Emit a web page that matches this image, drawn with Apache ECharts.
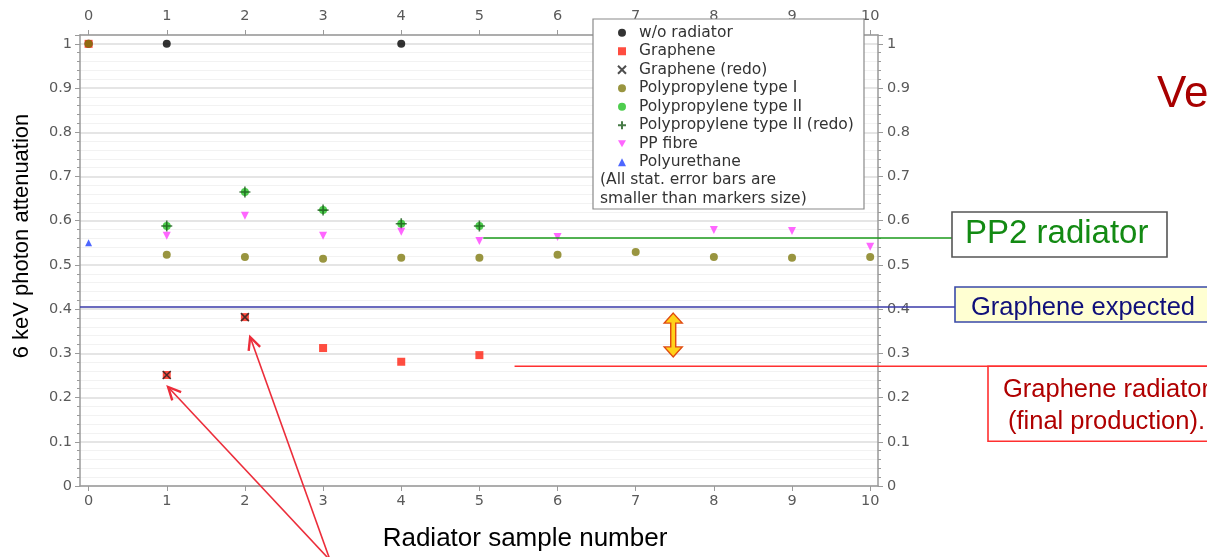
<!DOCTYPE html>
<html>
<head>
<meta charset="utf-8">
<script src="https://cdn.jsdelivr.net/npm/echarts@6/dist/echarts.min.js"></script>
<style>
  html, body { margin: 0; padding: 0; background: #fff; }
  #chart { width: 1207px; height: 557px; }
</style>
</head>
<body>
<div id="chart"></div>
<script>
// sample numbers on the x axis
const xTicks = [0, 1, 2, 3, 4, 5, 6, 7, 8, 9, 10];

// [sample number, attenuation]
const noRadiator = [[0, 1.0], [1, 1.0], [4, 1.0]];
const graphene = [[0, 1.0], [1, 0.251], [2, 0.382], [3, 0.312], [4, 0.281], [5, 0.296]];
const grapheneRedo = [[1, 0.251], [2, 0.382]];
const ppType1 = [[0, 1.0], [1, 0.523], [2, 0.518], [3, 0.514], [4, 0.516], [5, 0.516],
  [6, 0.523], [7, 0.529], [8, 0.518], [9, 0.516], [10, 0.518]];
const ppType2 = [[1, 0.588], [2, 0.665], [3, 0.624], [4, 0.593], [5, 0.588]];
const ppType2Redo = [[1, 0.588], [2, 0.665], [3, 0.624], [4, 0.593], [5, 0.588]];
const ppFibre = [[1, 0.566], [2, 0.611], [3, 0.566], [4, 0.575], [5, 0.554],
  [6, 0.563], [8, 0.579], [9, 0.577], [10, 0.541]];
const polyurethane = [[0, 0.55]];

// annotation levels
const expectedLevel = 0.405;
const pp2Level = 0.561;
const finalLevel = 0.271;

const crossPath = "path://M0,0L10,10M10,0L0,10";
const plusPath = "path://M5,0L5,10M0,5L10,5";
const downTriangle = "path://M0,0L10,0L5,9Z";

const axisGrey = "#9a9a9a";
const labelStyle = { color: "#5a5a5a", fontFamily: "DejaVu Sans", fontSize: 14.5 };

function xAxisCfg(pos) {
  return {
    type: "value",
    position: pos,
    min: -0.11,
    max: 10.1,
    axisLine: { show: true, onZero: false, lineStyle: { color: axisGrey, width: 1.5 } },
    axisTick: { show: true, customValues: xTicks, length: 5, lineStyle: { color: axisGrey } },
    axisLabel: Object.assign({ customValues: xTicks, margin: pos === "top" ? 11 : 8 }, labelStyle),
    splitLine: { show: false },
  };
}

function yAxisCfg(pos) {
  return {
    type: "value",
    position: pos,
    min: 0,
    max: 1.02,
    interval: 0.1,
    axisLine: { show: true, onZero: false, lineStyle: { color: axisGrey, width: 1.5 } },
    axisTick: { show: true, length: 5, lineStyle: { color: axisGrey } },
    minorTick: { show: true, splitNumber: 5, length: 3, lineStyle: { color: axisGrey } },
    axisLabel: Object.assign({ showMaxLabel: false, margin: pos === "left" ? 8 : 9 }, labelStyle),
    splitLine: { show: pos === "left", lineStyle: { color: "#dcdcdc", width: 1.5 } },
    minorSplitLine: { show: pos === "left", lineStyle: { color: "#f2f2f2", width: 1 } },
  };
}

function scatter(name, data, symbol, size, color, extra) {
  return Object.assign({
    name: name,
    type: "scatter",
    data: data,
    symbol: symbol,
    symbolSize: size,
    itemStyle: { color: color },
    emphasis: { disabled: true },
  }, extra || {});
}

const chart = echarts.init(document.getElementById("chart"));

const option = {
  animation: false,
  backgroundColor: "#fff",
  grid: { left: 80, right: 329, top: 35, bottom: 71 },
  xAxis: [xAxisCfg("bottom"), xAxisCfg("top")],
  yAxis: [yAxisCfg("left"), yAxisCfg("right")],
  legend: {
    orient: "vertical",
    left: 612,
    top: 18.5,
    itemGap: 0,
    itemWidth: 8,
    itemHeight: 8,
    z: 20,
    textStyle: { color: "#333", fontFamily: "DejaVu Sans", fontSize: 15.5, lineHeight: 18.5, padding: [0, 0, 0, 8] },
    data: ["w/o radiator", "Graphene", "Graphene (redo)", "Polypropylene type I",
      "Polypropylene type II", "Polypropylene type II (redo)", "PP fibre", "Polyurethane"],
  },
  series: [
    scatter("w/o radiator", noRadiator, "circle", 8, "#000"),
    scatter("Graphene", graphene, "rect", 8, "#ff2010"),
    scatter("Graphene (redo)", grapheneRedo, crossPath, 8, "rgba(0,0,0,0)",
      { itemStyle: { color: "rgba(0,0,0,0)", borderColor: "#222", borderWidth: 1.6 } }),
    scatter("Polypropylene type I", ppType1, "circle", 8, "#7f7a10"),
    scatter("Polypropylene type II", ppType2, "circle", 8, "#22c022"),
    scatter("Polypropylene type II (redo)", ppType2Redo, plusPath, 11, "rgba(0,0,0,0)",
      { itemStyle: { color: "rgba(0,0,0,0)", borderColor: "#1a5a1a", borderWidth: 1.6 } }),
    scatter("PP fibre", ppFibre, downTriangle, 8, "#ff40ff"),
    scatter("Polyurethane", polyurethane, "triangle", 7, "#2040ff"),
  ],
};
chart.setOption(option);

// annotations placed through the axes
const px = (x, y) => chart.convertToPixel({ xAxisIndex: 0, yAxisIndex: 0 }, [x, y]);
const yExp = px(0, expectedLevel)[1];
const yPP2 = px(0, pp2Level)[1];
const yFin = px(0, finalLevel)[1];
const leftEdge = px(-0.11, 0)[0];

function arrowTo(from, to, color) {
  const ang = Math.atan2(to[1] - from[1], to[0] - from[0]);
  const len = 14, spread = 0.45;
  const a = [to[0] - len * Math.cos(ang - spread), to[1] - len * Math.sin(ang - spread)];
  const b = [to[0] - len * Math.cos(ang + spread), to[1] - len * Math.sin(ang + spread)];
  return [
    { type: "line", shape: { x1: from[0], y1: from[1], x2: to[0], y2: to[1] }, style: { stroke: color, lineWidth: 1.6 }, z: 30 },
    { type: "polyline", shape: { points: [a, to, b] }, style: { stroke: color, lineWidth: 2.4, fill: null }, z: 30 },
  ];
}

const tail = px(3.09, -0.168);
const tip1 = px(1.017, 0.224);
const tip2 = px(2.067, 0.337);

const arrowX = px(7.48, 0)[0];
const aTop = px(0, 0.391)[1];
const aBot = px(0, 0.292)[1];
const dbl = [
  [arrowX, aTop], [arrowX + 9, aTop + 10], [arrowX + 2.5, aTop + 10], [arrowX + 2.5, aBot - 10],
  [arrowX + 9, aBot - 10], [arrowX, aBot], [arrowX - 9, aBot - 10], [arrowX - 2.5, aBot - 10],
  [arrowX - 2.5, aTop + 10], [arrowX - 9, aTop + 10],
];

const boxFont = "Liberation Sans";
chart.setOption({
  graphic: [
    // legend frame and note
    { type: "rect", shape: { x: 593, y: 19, width: 271, height: 190 }, style: { fill: "#fff", stroke: "#8a8a8a", lineWidth: 1.2 }, z: 10 },
    { type: "text", left: 600, top: 171, z: 20, style: { text: "(All stat. error bars are\nsmaller than markers size)", fill: "#333", font: "15.5px DejaVu Sans", lineHeight: 18.5 } },
    // graphene expected
    { type: "line", shape: { x1: leftEdge, y1: yExp, x2: 955, y2: yExp }, style: { stroke: "#3a3aa8", lineWidth: 1.6 }, z: 5 },
    { type: "rect", shape: { x: 955, y: yExp - 20, width: 260, height: 35 }, style: { fill: "#ffffd2", stroke: "#3a4aa8", lineWidth: 1.6 }, z: 5 },
    { type: "text", x: 971, y: yExp + 1, z: 6, style: { text: "Graphene expected", fill: "#10107a", font: "25.5px " + boxFont, verticalAlign: "middle" } },
    // PP2 radiator
    { type: "line", shape: { x1: px(5.05, 0)[0], y1: yPP2, x2: 952, y2: yPP2 }, style: { stroke: "#1a9a1a", lineWidth: 1.6 }, z: 5 },
    { type: "rect", shape: { x: 952, y: 212, width: 215, height: 45 }, style: { fill: "#fff", stroke: "#555", lineWidth: 1.6 }, z: 5 },
    { type: "text", x: 965, y: 234, z: 6, style: { text: "PP2 radiator", fill: "#138a13", font: "33px " + boxFont, verticalAlign: "middle" } },
    // graphene radiator (final)
    { type: "line", shape: { x1: px(5.45, 0)[0], y1: yFin, x2: 1207, y2: yFin }, style: { stroke: "#ff3030", lineWidth: 1.6 }, z: 5 },
    { type: "rect", shape: { x: 988, y: yFin, width: 240, height: 75 }, style: { fill: "#fff", stroke: "#ff3030", lineWidth: 1.6 }, z: 5 },
    { type: "text", x: 1003, y: yFin + 24, z: 6, style: { text: "Graphene radiator", fill: "#b00000", font: "25.5px " + boxFont, verticalAlign: "middle" } },
    { type: "text", x: 1008, y: yFin + 56, z: 6, style: { text: "(final production).", fill: "#b00000", font: "25.5px " + boxFont, verticalAlign: "middle" } },
    // slide title fragment
    { type: "text", x: 1157, y: 95, z: 6, style: { text: "Ve", fill: "#a80000", font: "44px " + boxFont, verticalAlign: "middle" } },
    // axis titles
    { type: "text", x: 525, y: 539, z: 6, style: { text: "Radiator sample number", fill: "#000", font: "26px " + boxFont, align: "center", verticalAlign: "middle" } },
    { type: "text", x: 22, y: 236, rotation: Math.PI / 2, z: 6, style: { text: "6 keV photon attenuation", fill: "#000", font: "22px " + boxFont, align: "center", verticalAlign: "middle" } },
    // double arrow
    { type: "polygon", shape: { points: dbl }, style: { fill: "#ffd21a", stroke: "#e04a10", lineWidth: 1.4 }, z: 30 },
  ].concat(arrowTo(tail, tip1, "#ec2d3a"), arrowTo(tail, tip2, "#ec2d3a")),
});
</script>
</body>
</html>
